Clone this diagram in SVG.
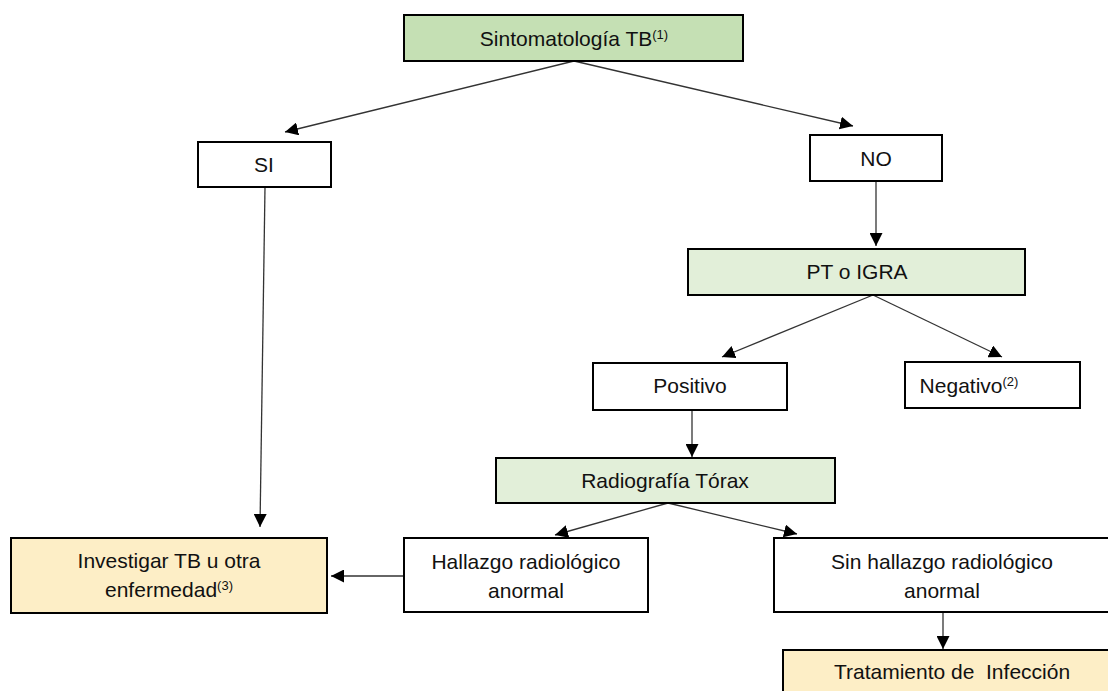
<svg xmlns="http://www.w3.org/2000/svg" width="1108" height="691" viewBox="0 0 1108 691">
<defs>
<marker id="ah" markerUnits="userSpaceOnUse" markerWidth="13" markerHeight="13" refX="13" refY="6.5" orient="auto">
<path d="M0,0 L13,6.5 L0,13 z" fill="#000"/>
</marker>
<style>
.box{stroke:#000;stroke-width:2;fill:#fff}
.g1{fill:#c5e0b4}
.g2{fill:#e2efd9}
.y{fill:#fdeec6}
.t{font-family:"Liberation Sans",Arial,sans-serif;font-size:21px;fill:#111;text-anchor:middle}
.sup{font-size:13px}
.c{stroke:#333;stroke-width:1.3;fill:none;marker-end:url(#ah)}
</style>
</defs>
<rect width="1108" height="691" fill="#fff"/>
<g id="connectors">
<line class="c" x1="574" y1="61" x2="285" y2="132"/>
<line class="c" x1="574" y1="61" x2="853" y2="126"/>
<line class="c" x1="265" y1="187" x2="260" y2="527"/>
<line class="c" x1="876" y1="181" x2="876" y2="246"/>
<line class="c" x1="873" y1="295" x2="722" y2="357"/>
<line class="c" x1="873" y1="295" x2="1002" y2="357"/>
<line class="c" x1="692" y1="410" x2="692" y2="457"/>
<line class="c" x1="668" y1="503" x2="555" y2="535"/>
<line class="c" x1="668" y1="503" x2="797" y2="534"/>
<line class="c" x1="404" y1="576" x2="331" y2="576"/>
<line class="c" x1="943" y1="612" x2="943" y2="649"/>
</g>
<g id="sintomatologia">
<rect class="box g1" x="404" y="15" width="339" height="46"/>
<text class="t" x="574" y="46">Sintomatología TB<tspan class="sup" dy="-7">(1)</tspan></text>
</g>
<g id="si">
<rect class="box" x="198" y="142" width="133" height="45"/>
<text class="t" x="264" y="172">SI</text>
</g>
<g id="no">
<rect class="box" x="810" y="135" width="132" height="46"/>
<text class="t" x="876" y="166">NO</text>
</g>
<g id="pt-igra">
<rect class="box g2" x="688" y="249" width="337" height="46"/>
<text class="t" x="857" y="279">PT o IGRA</text>
</g>
<g id="positivo">
<rect class="box" x="593" y="363" width="194" height="47"/>
<text class="t" x="690" y="393">Positivo</text>
</g>
<g id="negativo">
<rect class="box" x="905" y="362" width="175" height="46"/>
<text class="t" x="969" y="393">Negativo<tspan class="sup" dy="-7">(2)</tspan></text>
</g>
<g id="radiografia">
<rect class="box g2" x="496" y="458" width="339" height="45"/>
<text class="t" x="665" y="488">Radiografía Tórax</text>
</g>
<g id="investigar">
<rect class="box y" x="11" y="538" width="316" height="75"/>
<text class="t" x="169" y="568">Investigar TB u otra</text>
<text class="t" x="169" y="597">enfermedad<tspan class="sup" dy="-7">(3)</tspan></text>
</g>
<g id="hallazgo">
<rect class="box" x="404" y="538" width="244" height="74"/>
<text class="t" x="526" y="569">Hallazgo radiológico</text>
<text class="t" x="526" y="598">anormal</text>
</g>
<g id="sin-hallazgo">
<rect class="box" x="774" y="538" width="345" height="74"/>
<text class="t" x="942" y="569">Sin hallazgo radiológico</text>
<text class="t" x="942" y="598">anormal</text>
</g>
<g id="tratamiento">
<rect class="box y" x="783" y="650" width="340" height="60"/>
<text class="t" x="952" y="679" xml:space="preserve">Tratamiento de  Infección</text>
</g>
</svg>
